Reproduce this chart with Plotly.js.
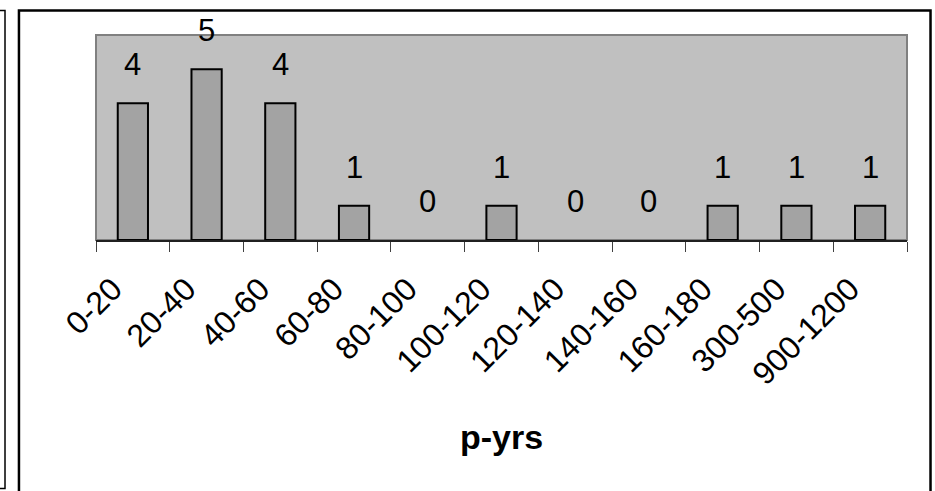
<!DOCTYPE html>
<html>
<head>
<meta charset="utf-8">
<script src="https://cdn.plot.ly/plotly-3.0.1.min.js"></script>
<style>
  html, body { margin: 0; padding: 0; background: #ffffff; }
  #chart { width: 935px; height: 491px; }
</style>
</head>
<body>
<div id="chart"></div>
<script>
// Pack-year bins and the number of cases in each
const bins = ['0-20', '20-40', '40-60', '60-80', '80-100', '100-120',
              '120-140', '140-160', '160-180', '300-500', '900-1200'];
const counts = [4, 5, 4, 1, 0, 1, 0, 0, 1, 1, 1];
const axisTitle = 'p-yrs';

const FONT = 'Arial, "Liberation Sans", sans-serif';

const bars = {
  type: 'bar',
  x: bins,
  y: counts,
  marker: {
    color: '#a3a3a3',
    // empty bins get no outline, so nothing sits on the baseline
    line: { color: '#000000', width: counts.map(v => (v > 0 ? 2 : 0)) }
  },
  hoverinfo: 'x+y'
};

// value labels sitting above each bar
const valueLabels = bins.map((b, i) => ({
  x: b, y: counts[i], xref: 'x', yref: 'y',
  text: String(counts[i]),
  showarrow: false,
  yanchor: 'bottom',
  yshift: 19,
  font: { family: FONT, size: 31, color: '#000000' }
}));

const layout = {
  width: 935,
  height: 491,
  margin: { l: 96, r: 28, t: 35, b: 251 },
  paper_bgcolor: '#ffffff',
  plot_bgcolor: '#c0c0c0',
  showlegend: false,
  bargap: 0.59,
  font: { family: FONT, color: '#000000' },
  xaxis: {
    type: 'category',
    tickangle: -45,
    tickson: 'boundaries',
    ticks: 'outside',
    ticklen: 10,
    tickwidth: 1,
    tickcolor: '#404040',
    ticklabelshift: -20,
    ticklabelstandoff: 16,
    showline: true,
    linecolor: '#202020',
    linewidth: 1.5,
    showgrid: false,
    zeroline: false,
    tickfont: { family: FONT, size: 32, color: '#000000' },
    fixedrange: true
  },
  yaxis: {
    range: [0, 6],
    visible: false,
    showgrid: false,
    zeroline: false,
    fixedrange: true
  },
  annotations: valueLabels.concat([{
    text: '<b>' + axisTitle + '</b>',
    xref: 'paper', yref: 'paper',
    x: 0.5, y: -0.961,
    xanchor: 'center', yanchor: 'middle',
    showarrow: false,
    font: { family: FONT, size: 34, color: '#000000' }
  }]),
  shapes: [
    // grey frame round the plot area
    { type: 'rect', xref: 'paper', yref: 'paper', x0: 0, x1: 1, y0: 0, y1: 1,
      line: { color: '#808080', width: 2 }, layer: 'below' },
    // outer chart border (its lower edge runs off the page)
    { type: 'rect', xref: 'paper', yref: 'paper',
      x0: -0.0950, x1: 1.0290, y0: -1.35, y1: 1.1195,
      line: { color: '#000000', width: 2.5 } },
    // edge of the neighbouring frame on the left
    { type: 'path', xref: 'paper', yref: 'paper',
      path: 'M -0.1190,1.1195 L -0.1122,1.1195 L -0.1122,-1.2126 L -0.1190,-1.2126',
      line: { color: '#000000', width: 1.5 } }
  ]
};

Plotly.newPlot('chart', [bars], layout, { displayModeBar: false, staticPlot: true });
</script>
</body>
</html>
